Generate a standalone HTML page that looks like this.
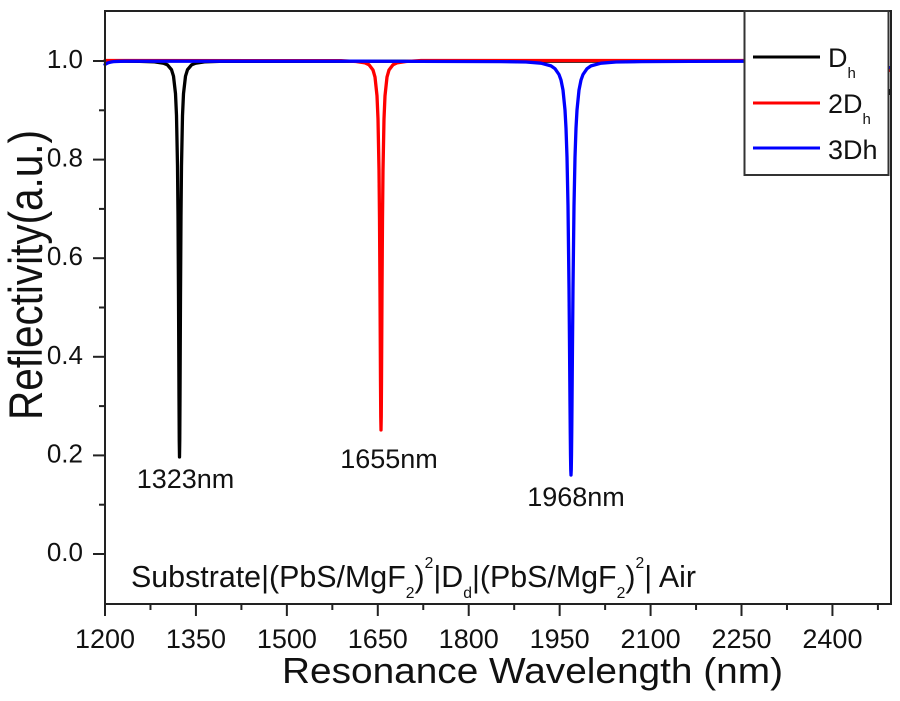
<!DOCTYPE html>
<html><head><meta charset="utf-8"><style>
html,body{margin:0;padding:0;background:#fff;}
svg{display:block;}
text{font-family:"Liberation Sans",Arial,sans-serif;fill:#111;}
</style></head><body>
<svg width="900" height="701" viewBox="0 0 900 701" xmlns="http://www.w3.org/2000/svg">
<rect x="0" y="0" width="900" height="701" fill="#fff"/>

<!-- curves -->
<g fill="none" stroke-width="3.3" stroke-linejoin="round" stroke-linecap="round">
<polyline stroke="#000" points="105,61 139.5,61.4 154.5,61.9 163.5,63.2 167.5,64.9 171.5,69.7 173.5,76.2 175.5,93.7 176.5,115.6 177.5,165.8 178,215.5 178.5,294.7 178.75,345.8 179,398.4 179.25,440.5 179.5,457 179.75,440.5 180,398.4 180.25,345.8 180.5,294.7 181,215.5 181.5,165.8 182.5,115.6 183.5,93.7 185.5,76.2 187.5,69.7 191.5,64.9 195.5,63.2 204.5,61.9 219.5,61.4 744,61"/>
<polyline stroke="#f00" points="105,60.5 341,60.7 356,61.5 365,62.9 369,64.8 373,70 375,77.1 377,95.8 378,118.9 379,170.2 379.5,219 380,292.7 380.25,337.7 380.5,382.4 380.75,416.8 381,430 381.25,416.8 381.5,382.4 381.75,337.7 382,292.7 382.5,219 383,170.2 384,118.9 385,95.8 387,77.1 389,70 393,64.8 397,62.9 406,61.5 421,60.5 744,60.5"/>
<path stroke="#00f" d="M105,64.5 C108,62 112,61.3 125,61.2 L360,61.2 L501,61.6 L526,62 L541,63.2 L551,65.9 L555,68.7 L559,74.5 L561,80.1 L563,90.1 L565,110.1 L566,128.2 L567,157.1 L568,205.8 L569,287.7 L569.5,343.6 L570,404.1 L570.25,431.9 L570.5,454.7 L570.75,469.7 L571,475 L571.25,469.7 L571.5,454.7 L571.75,431.9 L572,404.1 L572.5,343.6 L573,287.7 L574,205.8 L575,157.1 L576,128.2 L577,110.1 L579,90.1 L581,80.1 L583,74.5 L587,68.7 L591,65.9 L601,63.2 L616,62 L641,61.6 L690,61.4 L744,61.2"/>
</g>
<!-- right-edge marks -->
<rect x="888" y="66" width="3" height="3" fill="#00f"/>
<rect x="888" y="69" width="3" height="3" fill="#f00"/>
<rect x="888" y="89" width="3" height="6" fill="#000"/>

<!-- frame -->
<rect x="105" y="11" width="786" height="593" fill="none" stroke="#222" stroke-width="2"/>

<!-- x ticks -->
<g stroke="#222" stroke-width="2">
<line x1="105" y1="604" x2="105" y2="616"/>
<line x1="195.93" y1="604" x2="195.93" y2="616"/>
<line x1="286.86" y1="604" x2="286.86" y2="616"/>
<line x1="377.79" y1="604" x2="377.79" y2="616"/>
<line x1="468.72" y1="604" x2="468.72" y2="616"/>
<line x1="559.65" y1="604" x2="559.65" y2="616"/>
<line x1="650.58" y1="604" x2="650.58" y2="616"/>
<line x1="741.51" y1="604" x2="741.51" y2="616"/>
<line x1="832.44" y1="604" x2="832.44" y2="616"/>
<line x1="150.47" y1="604" x2="150.47" y2="610"/>
<line x1="241.4" y1="604" x2="241.4" y2="610"/>
<line x1="332.33" y1="604" x2="332.33" y2="610"/>
<line x1="423.26" y1="604" x2="423.26" y2="610"/>
<line x1="514.19" y1="604" x2="514.19" y2="610"/>
<line x1="605.12" y1="604" x2="605.12" y2="610"/>
<line x1="696.05" y1="604" x2="696.05" y2="610"/>
<line x1="786.98" y1="604" x2="786.98" y2="610"/>
<line x1="877.91" y1="604" x2="877.91" y2="610"/>
<!-- y ticks -->
<line x1="93" y1="554" x2="105" y2="554"/>
<line x1="93" y1="455.4" x2="105" y2="455.4"/>
<line x1="93" y1="356.8" x2="105" y2="356.8"/>
<line x1="93" y1="258.2" x2="105" y2="258.2"/>
<line x1="93" y1="159.6" x2="105" y2="159.6"/>
<line x1="93" y1="61" x2="105" y2="61"/>
<line x1="99" y1="504.7" x2="105" y2="504.7"/>
<line x1="99" y1="406.1" x2="105" y2="406.1"/>
<line x1="99" y1="307.5" x2="105" y2="307.5"/>
<line x1="99" y1="208.9" x2="105" y2="208.9"/>
<line x1="99" y1="110.3" x2="105" y2="110.3"/>
</g>

<!-- x tick labels -->
<g font-size="27" text-anchor="middle">
<text x="105" y="648">1200</text>
<text x="195.93" y="648">1350</text>
<text x="286.86" y="648">1500</text>
<text x="377.79" y="648">1650</text>
<text x="468.72" y="648">1800</text>
<text x="559.65" y="648">1950</text>
<text x="650.58" y="648">2100</text>
<text x="741.51" y="648">2250</text>
<text x="832.44" y="648">2400</text>
</g>
<!-- y tick labels -->
<g font-size="26" text-anchor="end">
<text x="83" y="561">0.0</text>
<text x="83" y="462.4">0.2</text>
<text x="83" y="363.8">0.4</text>
<text x="83" y="265.2">0.6</text>
<text x="83" y="166.6">0.8</text>
<text x="83" y="68">1.0</text>
</g>

<!-- axis titles -->
<text x="282" y="683" font-size="36" textLength="501" lengthAdjust="spacingAndGlyphs">Resonance Wavelength (nm)</text>
<text transform="translate(42,420) rotate(-90)" x="0" y="0" font-size="47" textLength="290" lengthAdjust="spacingAndGlyphs">Reflectivity(a.u.)</text>

<!-- peak labels -->
<g font-size="27" text-anchor="middle">
<text x="185.5" y="488">1323nm</text>
<text x="389" y="468">1655nm</text>
<text x="576" y="506">1968nm</text>
</g>

<!-- structure text -->
<text x="131" y="587" font-size="30.4">Substrate|(PbS/MgF<tspan font-size="15.7" dy="11">2</tspan><tspan dy="-11">)</tspan><tspan font-size="15.7" dy="-19">2</tspan><tspan dy="19">|D</tspan><tspan font-size="15.7" dy="11">d</tspan><tspan dy="-11">|(PbS/MgF</tspan><tspan font-size="15.7" dy="11">2</tspan><tspan dy="-11">)</tspan><tspan font-size="15.7" dy="-19">2</tspan><tspan dy="19">| Air</tspan></text>

<!-- legend -->
<rect x="744.5" y="11" width="144" height="164" fill="#fff" stroke="#333" stroke-width="2"/>
<g stroke-width="3">
<line x1="753" y1="57" x2="820" y2="57" stroke="#000"/>
<line x1="753" y1="103" x2="820" y2="103" stroke="#f00"/>
<line x1="753" y1="148" x2="820" y2="148" stroke="#00f"/>
</g>
<text x="828" y="67" font-size="27">D<tspan font-size="15" dy="11">h</tspan></text>
<text x="828" y="113" font-size="27">2D<tspan font-size="15" dy="11">h</tspan></text>
<text x="828" y="159" font-size="27">3Dh</text>
</svg>
</body></html>
